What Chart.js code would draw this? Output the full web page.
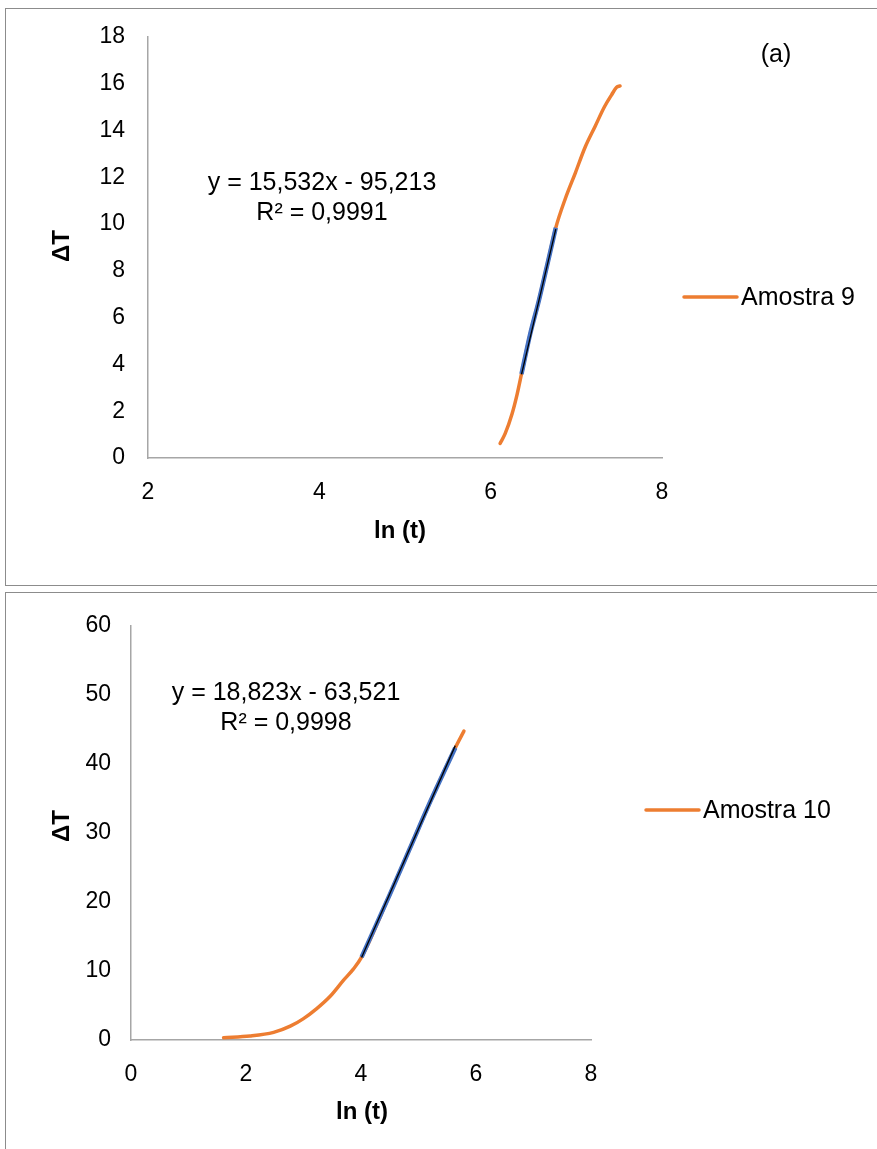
<!DOCTYPE html>
<html>
<head>
<meta charset="utf-8">
<script src="https://cdn.jsdelivr.net/npm/chart.js@4.4.1/dist/chart.umd.min.js"></script>
<style>
  html, body { margin: 0; padding: 0; background: #fff; overflow: hidden; }
  body { width: 877px; height: 1149px; position: relative; }
  .panel { position: absolute; border: 1px solid #8c8c8c; box-sizing: border-box; }
  #p1 { left: 5px; top: 8px; width: 900px; height: 578px; }
  #p2 { left: 5px; top: 592px; width: 900px; height: 600px; }
  canvas { position: absolute; left: 0; }
  #c1 { top: 0; }
  #c2 { top: 592px; }
</style>
</head>
<body>
<div class="panel" id="p1"></div>
<div class="panel" id="p2"></div>
<canvas id="c1" width="877" height="586"></canvas>
<canvas id="c2" width="877" height="557"></canvas>
<script>
// Amostra 9 (a)
const lnT9 = [6.11, 6.17, 6.25, 6.31, 6.36, 6.46, 6.56, 6.66, 6.76, 6.87, 6.99, 7.10, 7.22, 7.33, 7.41, 7.47, 7.51];
const dT9  = [0.62, 1.05, 1.89, 2.74, 3.59, 5.28, 6.69, 8.25, 9.84, 11.07, 12.20, 13.26, 14.18, 15.02, 15.51, 15.84, 15.90];
const fit9 = [6.36, 6.76];
const slope9 = 15.532, icpt9 = -95.213, r2_9 = 0.9991;

// Amostra 10
const lnT10 = [1.61, 2.07, 2.48, 2.77, 3.00, 3.23, 3.46, 3.69, 3.87, 4.01, 4.50, 4.85, 5.20, 5.64, 5.79];
const dT10  = [0.33, 0.57, 1.10, 2.00, 3.10, 4.55, 6.30, 8.60, 10.30, 12.00, 21.06, 27.75, 34.45, 42.34, 44.74];
const fit10 = [4.01, 5.64];
const slope10 = 18.823, icpt10 = -63.521, r2_10 = 0.9998;

const ORANGE = "#ED7D31", BLUE = "#4472C4", AXIS = "#a6a6a6";
const FONT = "'Liberation Sans', Arial, sans-serif";

function fmt(n, d) { return n.toFixed(d).replace(".", ","); }

function makeChart(canvas, cfg) {
  const pts = cfg.x.map((x, i) => ({ x, y: cfg.y[i] }));
  const fitPts = pts.filter(p => p.x >= cfg.fit[0] && p.x <= cfg.fit[1]);
  const trend = cfg.fit.map(x => ({ x, y: cfg.slope * x + cfg.icpt }));
  const W = canvas.width, H = canvas.height, A = cfg.area;

  const texts = {
    id: "texts",
    afterDraw(chart) {
      const ctx = chart.ctx;
      ctx.save();
      ctx.fillStyle = "#000";
      ctx.textAlign = "center";
      ctx.textBaseline = "middle";
      // axis titles
      ctx.font = "bold 24px " + FONT;
      ctx.fillText("ln (t)", cfg.xTitle[0], cfg.xTitle[1]);
      ctx.save();
      ctx.translate(cfg.yTitle[0], cfg.yTitle[1]);
      ctx.rotate(-Math.PI / 2);
      ctx.fillText("\u0394T", 0, 0);
      ctx.restore();
      // trendline equation
      ctx.font = "25px " + FONT;
      const sign = cfg.icpt < 0 ? " - " : " + ";
      ctx.fillText("y = " + fmt(cfg.slope, 3) + "x" + sign + fmt(Math.abs(cfg.icpt), 3), cfg.eq[0], cfg.eq[1]);
      ctx.fillText("R\u00b2 = " + fmt(cfg.r2, 4), cfg.eq[0], cfg.eq[1] + 30);
      if (cfg.tag) ctx.fillText(cfg.tag, cfg.tagPos[0], cfg.tagPos[1]);
      // legend
      const [lx, ly] = cfg.leg;
      ctx.strokeStyle = ORANGE;
      ctx.lineWidth = 3.5;
      ctx.lineCap = "round";
      ctx.beginPath();
      ctx.moveTo(lx, ly);
      ctx.lineTo(lx + 53, ly);
      ctx.stroke();
      ctx.textAlign = "left";
      ctx.fillText(cfg.name, lx + 57, ly + 1);
      ctx.restore();
    }
  };

  const tickFont = { family: FONT, size: 23 };
  return new Chart(canvas, {
    type: "line",
    data: {
      datasets: [
        { data: trend, borderColor: "#000", borderWidth: 1.3, pointRadius: 0, tension: 0 },
        { data: fitPts, borderColor: BLUE, borderWidth: 4.5, pointRadius: 0,
          tension: 0.4, cubicInterpolationMode: "monotone" },
        { label: cfg.name, data: pts, borderColor: ORANGE, borderWidth: 3.5, pointRadius: 0,
          tension: 0.4, cubicInterpolationMode: "monotone", borderCapStyle: "round" }
      ]
    },
    options: {
      responsive: false,
      animation: false,
      devicePixelRatio: 1,
      layout: { padding: { left: 0, top: A.top, right: W - A.right, bottom: 0 } },
      plugins: { legend: { display: false }, tooltip: { enabled: false } },
      scales: {
        x: {
          type: "linear", min: cfg.xMin, max: cfg.xMax,
          ticks: { stepSize: 2, font: tickFont, color: "#000", padding: cfg.xPad, maxRotation: 0 },
          grid: { display: false, drawTicks: false },
          border: { color: AXIS, width: 1.5 },
          afterFit: s => { s.height = H - A.bottom; }
        },
        y: {
          min: 0, max: cfg.yMax,
          ticks: { stepSize: cfg.yStep, font: tickFont, color: "#000", padding: cfg.yPad },
          grid: { display: false, drawTicks: false },
          border: { color: AXIS, width: 1.5 },
          afterFit: s => { s.width = A.left; }
        }
      }
    },
    plugins: [texts]
  });
}

makeChart(document.getElementById("c1"), {
  name: "Amostra 9", x: lnT9, y: dT9, fit: fit9, slope: slope9, icpt: icpt9, r2: r2_9,
  xMin: 2, xMax: 8, yMax: 18, yStep: 2, xPad: 21, yPad: 23,
  area: { left: 148, right: 662, top: 33, bottom: 458 },
  xTitle: [400, 531], yTitle: [62, 246], eq: [322, 183],
  tag: "(a)", tagPos: [776, 55], leg: [684, 297]
});

makeChart(document.getElementById("c2"), {
  name: "Amostra 10", x: lnT10, y: dT10, fit: fit10, slope: slope10, icpt: icpt10, r2: r2_10,
  xMin: 0, xMax: 8, yMax: 60, yStep: 10, xPad: 21, yPad: 20,
  area: { left: 131, right: 591, top: 30, bottom: 448 },
  xTitle: [362, 520], yTitle: [62, 234], eq: [286, 101],
  leg: [646, 218]
});
</script>
</body>
</html>
